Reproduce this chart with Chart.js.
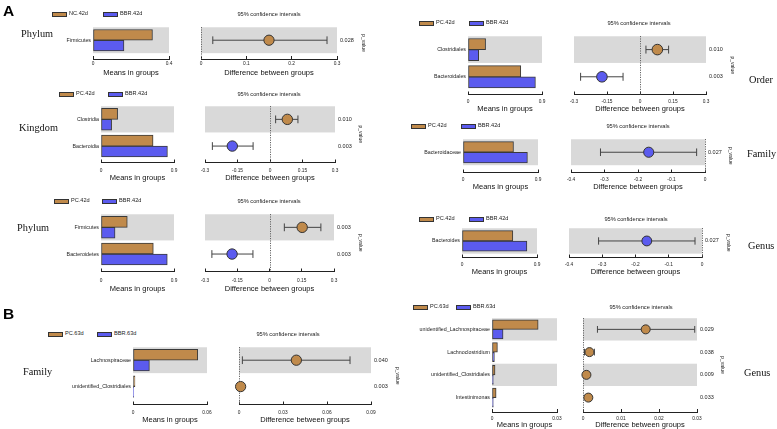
<!DOCTYPE html>
<html><head><meta charset="utf-8">
<script src="https://cdn.jsdelivr.net/npm/chart.js@4/dist/chart.umd.min.js"></script>
<style>
html,body{margin:0;padding:0;background:#fff;}
#root{position:relative;width:777px;height:429px;overflow:hidden;background:#fff;font-family:"Liberation Sans",Arial,sans-serif;color:#222;}
#root canvas{position:absolute;}
.t{position:absolute;white-space:nowrap;line-height:1;transform:translateY(-50%);}
.sw{position:absolute;box-sizing:border-box;border:1px solid #333;}
</style></head><body><div id="root"></div>
<script>
// ---------------- DATA ----------------
// A: Phylum (NC vs BBR, 42d)
const a1Groups = ['NC.42d', 'BBR.42d'];
const a1Features = ['Firmicutes'];
const a1Mean1 = [0.313];
const a1Mean2 = [0.163];
const a1Diff = [0.150];
const a1Low = [0.026];
const a1High = [0.278];
const a1P = ['0.028'];
const a1MeanTicks = ['0', '0.4'];
const a1DiffTicks = ['0', '0.1', '0.2', '0.3'];

// A: Kingdom (PC vs BBR, 42d)
const a2Groups = ['PC.42d', 'BBR.42d'];
const a2Features = ['Clostridia', 'Bacteroidia'];
const a2Mean1 = [0.205, 0.642];
const a2Mean2 = [0.131, 0.819];
const a2Diff = [0.080, -0.174];
const a2Low = [0.026, -0.266];
const a2High = [0.129, -0.078];
const a2P = ['0.010', '0.003'];
const a2MeanTicks = ['0', '0.9'];
const a2DiffTicks = ['-0.3', '-0.15', '0', '0.15', '0.3'];

// A: Phylum (PC vs BBR, 42d)
const a3Groups = ['PC.42d', 'BBR.42d'];
const a3Features = ['Firmicutes', 'Bacteroidetes'];
const a3Mean1 = [0.324, 0.645];
const a3Mean2 = [0.173, 0.817];
const a3Diff = [0.152, -0.174];
const a3Low = [0.069, -0.268];
const a3High = [0.239, -0.077];
const a3P = ['0.003', '0.003'];
const a3MeanTicks = ['0', '0.9'];
const a3DiffTicks = ['-0.3', '-0.15', '0', '0.15', '0.3'];

// A: Order
const a4Groups = ['PC.42d', 'BBR.42d'];
const a4Features = ['Clostridiales', 'Bacteroidales'];
const a4Mean1 = [0.214, 0.642];
const a4Mean2 = [0.130, 0.820];
const a4Diff = [0.079, -0.173];
const a4Low = [0.027, -0.270];
const a4High = [0.130, -0.077];
const a4P = ['0.010', '0.003'];
const a4MeanTicks = ['0', '0.9'];
const a4DiffTicks = ['-0.3', '-0.15', '0', '0.15', '0.3'];

// A: Family
const a5Groups = ['PC.42d', 'BBR.42d'];
const a5Features = ['Bacteroidaceae'];
const a5Mean1 = [0.606];
const a5Mean2 = [0.773];
const a5Diff = [-0.168];
const a5Low = [-0.312];
const a5High = [-0.025];
const a5P = ['0.027'];
const a5MeanTicks = ['0', '0.9'];
const a5DiffTicks = ['-0.4', '-0.3', '-0.2', '-0.1', '0'];

// A: Genus
const a6Groups = ['PC.42d', 'BBR.42d'];
const a6Features = ['Bacteroides'];
const a6Mean1 = [0.610];
const a6Mean2 = [0.779];
const a6Diff = [-0.166];
const a6Low = [-0.311];
const a6High = [-0.021];
const a6P = ['0.027'];
const a6MeanTicks = ['0', '0.9'];
const a6DiffTicks = ['-0.4', '-0.3', '-0.2', '-0.1', '0'];

// B: Family (63d)
const b1Groups = ['PC.63d', 'BBR.63d'];
const b1Features = ['Lachnospiraceae', 'unidentified_Clostridiales'];
const b1Mean1 = [0.0525, 0.0016];
const b1Mean2 = [0.0133, 0.0006];
const b1Diff = [0.0391, 0.0011];
const b1Low = [0.0023, 0.0004];
const b1High = [0.0757, 0.0018];
const b1P = ['0.040', '0.003'];
const b1MeanTicks = ['0', '0.06'];
const b1DiffTicks = ['0', '0.03', '0.06', '0.09'];

// B: Genus (63d)
const b2Groups = ['PC.63d', 'BBR.63d'];
const b2Features = ['unidentified_Lachnospiraceae', 'Lachnoclostridium', 'unidentified_Clostridiales', 'Intestinimonas'];
const b2Mean1 = [0.0213, 0.0025, 0.0014, 0.0019];
const b2Mean2 = [0.0051, 0.0011, 0.0006, 0.0006];
const b2Diff = [0.0165, 0.0017, 0.0009, 0.0014];
const b2Low = [0.0038, 0.0004, 0.0002, 0.0006];
const b2High = [0.0294, 0.0030, 0.0016, 0.0022];
const b2P = ['0.029', '0.038', '0.009', '0.033'];
const b2MeanTicks = ['0', '0.03'];
const b2DiffTicks = ['0', '0.01', '0.02', '0.03'];

const colorG1 = '#c08a4b';
const colorG2 = '#5b5bef';
const bandColor = '#d9d9d9';

// ---------------- LAYOUT ----------------
const panels = [
  { name: 'Phylum', groups: a1Groups, features: a1Features, mean1: a1Mean1, mean2: a1Mean2, diff: a1Diff, low: a1Low, high: a1High, p: a1P, meanTicks: a1MeanTicks, diffTicks: a1DiffTicks,
    L: { top: 27, rowH: 25.6, axisY: 58, bx0: 93, bx1: 169, dx0: 201, dx1: 337, labelDy: 5, titleDy: 13.5, legY: 14, leg1X: 52, leg2X: 103, ciX: 269, pTitleX: 363, gx: 21, gy: 34 } },
  { name: 'Kingdom', groups: a2Groups, features: a2Features, mean1: a2Mean1, mean2: a2Mean2, diff: a2Diff, low: a2Low, high: a2High, p: a2P, meanTicks: a2MeanTicks, diffTicks: a2DiffTicks,
    L: { top: 106, rowH: 26, axisY: 161, bx0: 101, bx1: 174, dx0: 205, dx1: 335, labelDy: 8, titleDy: 15, legY: 94, leg1X: 59, leg2X: 108, ciX: 269, pTitleX: 360, gx: 19, gy: 128 } },
  { name: 'Phylum', groups: a3Groups, features: a3Features, mean1: a3Mean1, mean2: a3Mean2, diff: a3Diff, low: a3Low, high: a3High, p: a3P, meanTicks: a3MeanTicks, diffTicks: a3DiffTicks,
    L: { top: 214, rowH: 26, axisY: 270, bx0: 101, bx1: 174, dx0: 205, dx1: 334, labelDy: 9, titleDy: 17, legY: 201, leg1X: 54, leg2X: 102, ciX: 269, pTitleX: 360, gx: 17, gy: 228 } },
  { name: 'Order', groups: a4Groups, features: a4Features, mean1: a4Mean1, mean2: a4Mean2, diff: a4Diff, low: a4Low, high: a4High, p: a4P, meanTicks: a4MeanTicks, diffTicks: a4DiffTicks,
    L: { top: 36, rowH: 26.5, axisY: 93, bx0: 468, bx1: 542, dx0: 574, dx1: 706, labelDy: 7, titleDy: 14, legY: 23, leg1X: 419, leg2X: 469, ciX: 639, pTitleX: 732, gx: 749, gy: 80 } },
  { name: 'Family', groups: a5Groups, features: a5Features, mean1: a5Mean1, mean2: a5Mean2, diff: a5Diff, low: a5Low, high: a5High, p: a5P, meanTicks: a5MeanTicks, diffTicks: a5DiffTicks,
    L: { top: 139, rowH: 25.3, axisY: 171, bx0: 463, bx1: 538, dx0: 571, dx1: 705, labelDy: 7, titleDy: 14, legY: 126, leg1X: 411, leg2X: 461, ciX: 638, pTitleX: 730, gx: 747, gy: 154 } },
  { name: 'Genus', groups: a6Groups, features: a6Features, mean1: a6Mean1, mean2: a6Mean2, diff: a6Diff, low: a6Low, high: a6High, p: a6P, meanTicks: a6MeanTicks, diffTicks: a6DiffTicks,
    L: { top: 228, rowH: 24.6, axisY: 256, bx0: 462, bx1: 537, dx0: 569, dx1: 702, labelDy: 7, titleDy: 14, legY: 219, leg1X: 419, leg2X: 469, ciX: 636, pTitleX: 728, gx: 748, gy: 246 } },
  { name: 'Family', groups: b1Groups, features: b1Features, mean1: b1Mean1, mean2: b1Mean2, diff: b1Diff, low: b1Low, high: b1High, p: b1P, meanTicks: b1MeanTicks, diffTicks: b1DiffTicks,
    L: { top: 347, rowH: 25.7, axisY: 403, bx0: 133, bx1: 207, dx0: 239, dx1: 371, labelDy: 8, titleDy: 15, legY: 334, leg1X: 48, leg2X: 97, ciX: 288, pTitleX: 397, gx: 23, gy: 372 } },
  { name: 'Genus', groups: b2Groups, features: b2Features, mean1: b2Mean1, mean2: b2Mean2, diff: b2Diff, low: b2Low, high: b2High, p: b2P, meanTicks: b2MeanTicks, diffTicks: b2DiffTicks,
    L: { top: 318, rowH: 22.5, axisY: 411, bx0: 492, bx1: 557, dx0: 583, dx1: 697, labelDy: 7, titleDy: 12.5, legY: 307, leg1X: 413, leg2X: 456, ciX: 641, pTitleX: 722, gx: 744, gy: 373 } }
];

// ---------------- HELPERS ----------------
Chart.defaults.font.family = '"Liberation Sans", Arial, sans-serif';
Chart.defaults.color = '#222';
Chart.defaults.animation = false;

const root = document.getElementById('root');
function addText(txt, x, y, size, opts) {
  opts = opts || {};
  const d = document.createElement('div');
  d.className = 't';
  d.textContent = txt;
  d.style.left = x + 'px';
  d.style.top = y + 'px';
  d.style.fontSize = size + 'px';
  if (opts.center) d.style.transform = 'translate(-50%,-50%)';
  if (opts.family) d.style.fontFamily = opts.family;
  if (opts.bold) d.style.fontWeight = 'bold';
  if (opts.color) d.style.color = opts.color;
  root.appendChild(d);
}
function addSwatch(x, y, color) {
  const s = document.createElement('div');
  s.className = 'sw';
  s.style.left = x + 'px';
  s.style.top = (y - 2.5) + 'px';
  s.style.width = '15px';
  s.style.height = '5px';
  s.style.background = color;
  root.appendChild(s);
}
function addCanvas(left, top, w, h) {
  const c = document.createElement('canvas');
  c.width = w; c.height = h;
  c.style.left = left + 'px'; c.style.top = top + 'px';
  c.style.width = w + 'px'; c.style.height = h + 'px';
  root.appendChild(c);
  return c;
}

const bandPlugin = {
  id: 'bands',
  beforeDatasetsDraw(chart, args, opts) {
    const { ctx, chartArea, scales } = chart;
    const y = scales.y;
    ctx.save();
    ctx.fillStyle = bandColor;
    for (let i = 0; i < opts.n; i += 2) {
      const a = y.getPixelForValue(i - 0.49), b = y.getPixelForValue(i + 0.49);
      ctx.fillRect(chartArea.left, Math.min(a, b), chartArea.right - chartArea.left, Math.abs(b - a));
    }
    if (opts.zero) {
      const x = Math.round(scales.x.getPixelForValue(0)) + 0.5;
      ctx.strokeStyle = '#666';
      ctx.lineWidth = 1;
      ctx.setLineDash([1.2, 1.2]);
      ctx.beginPath();
      ctx.moveTo(x, chartArea.top);
      ctx.lineTo(x, chartArea.bottom);
      ctx.stroke();
    }
    ctx.restore();
  }
};

const TICK_FONT = 4.8, TITLE_FONT = 7.5;
function xAxis(tickLabels, title, labelDy, titleDy) {
  const vals = tickLabels.map(parseFloat);
  const p = labelDy + 3 - TICK_FONT * 1.2 / 2;
  const H = titleDy + TITLE_FONT * 1.2 / 2;
  return {
    type: 'linear', min: vals[0], max: vals[vals.length - 1], offset: false,
    afterBuildTicks: s => { s.ticks = vals.map(v => ({ value: v })); },
    afterFit: s => { s.height = H; },
    ticks: { autoSkip: false, maxRotation: 0, minRotation: 0, padding: p, font: { size: TICK_FONT }, color: '#222',
             callback: (v, i) => tickLabels[i] },
    grid: { offset: false, drawOnChartArea: false, drawTicks: true, tickLength: -3, tickColor: '#222', tickWidth: 1 },
    border: { display: true, color: '#222', width: 1 },
    title: { display: true, text: title, font: { size: TITLE_FONT }, color: '#111', padding: 0 }
  };
}
function yAxis(L, labels, position, width, fontSize, titleText) {
  return {
    type: 'linear', position, reverse: true, offset: false, bounds: 'data',
    min: -0.5, max: (L.axisY - L.top) / L.rowH - 0.5,
    afterBuildTicks: s => { s.ticks = labels.map((_, i) => ({ value: i })); },
    afterFit: s => { s.width = width; },
    ticks: { autoSkip: false, padding: position === 'left' ? 2 : 3, font: { size: fontSize }, color: '#222',
             callback: (v, i) => labels[i] },
    grid: { offset: false, display: false, drawTicks: false },
    border: { display: false },
    title: titleText ? { display: true, text: titleText, font: { size: 5 }, padding: 0, color: '#222' } : { display: false }
  };
}

function makePanel(P) {
  const L = P.L;
  const n = P.features.length;
  const padTop = 8;
  const H = L.titleDy + TITLE_FONT * 1.2 / 2;
  const h = Math.ceil(L.axisY - L.top + padTop + H) + 1;

  // ---- means bar chart ----
  const WY = 90, padR = 18;
  const bc = addCanvas(L.bx0 - WY, L.top - padTop, WY + (L.bx1 - L.bx0) + padR, h);
  const thick = L.rowH * 0.42;
  new Chart(bc, {
    type: 'bar',
    data: { datasets: [
      { label: P.groups[0], data: P.mean1.map((v, i) => ({ x: v, y: i })), backgroundColor: colorG1, borderColor: '#3a3a3a', borderWidth: 1, borderSkipped: false, barThickness: thick },
      { label: P.groups[1], data: P.mean2.map((v, i) => ({ x: v, y: i })), backgroundColor: colorG2, borderColor: '#3a3a3a', borderWidth: 1, borderSkipped: false, barThickness: thick }
    ] },
    options: {
      indexAxis: 'y', responsive: false, animation: false, devicePixelRatio: 1,
      layout: { padding: { top: padTop, left: 0, right: padR, bottom: 0 } },
      plugins: { legend: { display: false }, tooltip: { enabled: false }, bands: { n, zero: false } },
      scales: {
        x: xAxis(P.meanTicks, 'Means in groups', L.labelDy, L.titleDy),
        y: yAxis(L, P.features, 'left', WY, 5.3, null)
      }
    },
    plugins: [bandPlugin]
  });

  // ---- difference chart ----
  const padL = 18;
  const y2W = L.pTitleX + 3 - L.dx1;
  const dc = addCanvas(L.dx0 - padL, L.top - padTop, padL + (L.dx1 - L.dx0) + y2W, h);
  const r = L.rowH * 0.2, capR = L.rowH * 0.15;
  const datasets = [{
    type: 'scatter', showLine: false, clip: false,
    data: P.diff.map((d, i) => ({ x: d, y: i })),
    pointRadius: r, pointHoverRadius: r,
    pointBackgroundColor: P.diff.map(d => d >= 0 ? colorG1 : colorG2),
    pointBorderColor: '#333', pointBorderWidth: 1
  }];
  P.diff.forEach((d, i) => {
    datasets.push({
      type: 'scatter', showLine: true, clip: false, fill: false,
      data: [{ x: P.low[i], y: i }, { x: P.high[i], y: i }],
      borderColor: '#444', borderWidth: 1,
      pointStyle: 'line', pointRotation: 90, pointRadius: capR, pointHoverRadius: capR,
      pointBorderColor: '#444', pointBorderWidth: 1
    });
  });
  new Chart(dc, {
    type: 'scatter',
    data: { datasets },
    options: {
      responsive: false, animation: false, devicePixelRatio: 1,
      layout: { padding: { top: padTop, left: padL, right: 0, bottom: 0 } },
      plugins: { legend: { display: false }, tooltip: { enabled: false }, bands: { n, zero: true } },
      scales: {
        x: xAxis(P.diffTicks, 'Difference between groups', L.labelDy, L.titleDy),
        y: yAxis(L, P.p, 'right', y2W, 5.5, 'p_value')
      }
    },
    plugins: [bandPlugin]
  });

  // ---- legend & labels ----
  addSwatch(L.leg1X, L.legY, colorG1);
  addText(P.groups[0], L.leg1X + 17, L.legY, 5.6);
  addSwatch(L.leg2X, L.legY, colorG2);
  addText(P.groups[1], L.leg2X + 17, L.legY, 5.6);
  addText('95% confidence intervals', L.ciX, L.legY + 0.5, 5.7, { center: true });
  addText(P.name, L.gx, L.gy, 10.3, { family: '"Liberation Serif", "Times New Roman", serif', color: '#111' });
}

panels.forEach(makePanel);
addText('A', 3, 11, 15.5, { bold: true, color: '#000' });
addText('B', 3, 314, 15.5, { bold: true, color: '#000' });
</script>
</body></html>
